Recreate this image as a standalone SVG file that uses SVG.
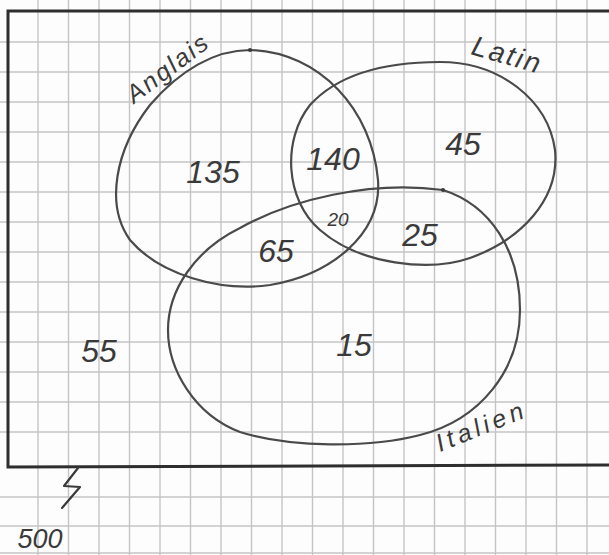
<svg xmlns="http://www.w3.org/2000/svg" width="609" height="555" viewBox="0 0 609 555">
<style>
.grid line{stroke:#c4c4c4;stroke-width:1.4}
.set{fill:none;stroke:#4a4a4a;stroke-width:2.2;stroke-linecap:round}
.num{font-family:"Liberation Sans",sans-serif;font-style:italic;font-size:32px;fill:#3a3a3a;text-anchor:middle}
.lbl{font-family:"Liberation Sans",sans-serif;font-style:italic;font-size:25px;fill:#3a3a3a}
.frame{fill:none;stroke:#2e2e2e;stroke-width:3}
</style>
<rect width="609" height="555" fill="#fdfdfd"/>
<g class="grid">
<line x1="38" y1="0" x2="38" y2="555"/><line x1="68.5" y1="0" x2="68.5" y2="555"/><line x1="99" y1="0" x2="99" y2="555"/><line x1="129.5" y1="0" x2="129.5" y2="555"/><line x1="160" y1="0" x2="160" y2="555"/><line x1="190.5" y1="0" x2="190.5" y2="555"/><line x1="221" y1="0" x2="221" y2="555"/><line x1="251.5" y1="0" x2="251.5" y2="555"/><line x1="282" y1="0" x2="282" y2="555"/><line x1="312.5" y1="0" x2="312.5" y2="555"/><line x1="343" y1="0" x2="343" y2="555"/><line x1="373.5" y1="0" x2="373.5" y2="555"/><line x1="404" y1="0" x2="404" y2="555"/><line x1="434.5" y1="0" x2="434.5" y2="555"/><line x1="465" y1="0" x2="465" y2="555"/><line x1="495.5" y1="0" x2="495.5" y2="555"/><line x1="526" y1="0" x2="526" y2="555"/><line x1="556.5" y1="0" x2="556.5" y2="555"/><line x1="587" y1="0" x2="587" y2="555"/>
<line x1="0" y1="42" x2="609" y2="42"/><line x1="0" y1="72" x2="609" y2="72"/><line x1="0" y1="102" x2="609" y2="102"/><line x1="0" y1="132" x2="609" y2="132"/><line x1="0" y1="162" x2="609" y2="162"/><line x1="0" y1="192" x2="609" y2="192"/><line x1="0" y1="222" x2="609" y2="222"/><line x1="0" y1="252" x2="609" y2="252"/><line x1="0" y1="282" x2="609" y2="282"/><line x1="0" y1="312" x2="609" y2="312"/><line x1="0" y1="342" x2="609" y2="342"/><line x1="0" y1="372" x2="609" y2="372"/><line x1="0" y1="402" x2="609" y2="402"/><line x1="0" y1="432" x2="609" y2="432"/><line x1="0" y1="497" x2="609" y2="497"/><line x1="0" y1="526" x2="609" y2="526"/><line x1="0" y1="553" x2="609" y2="553"/>
</g>
<g id="universe">
<path class="frame" d="M609 11 L8 11 L8 467 L609 465"/>
</g>
<g id="anglais">
<path class="set" d="M250 50 C320 52 372 110 378 180 C382 235 330 275 270 285 C220 292 160 275 130 240 C105 205 115 150 150 105 C180 70 215 50 250 50 Z"/>
<circle cx="250" cy="50" r="2" fill="#3a3a3a"/>
<text class="lbl" transform="translate(134 104) rotate(-37)" textLength="95">Anglais</text>
</g>
<g id="latin">
<path class="set" d="M440 62 C500 62 548 100 555 150 C560 200 520 240 470 258 C430 272 360 265 320 230 C285 200 282 140 310 105 C340 72 390 62 440 62 Z"/>
<text class="lbl" transform="translate(470 54) rotate(16)" style="font-size:28px" textLength="70">Latin</text>
</g>
<g id="italien">
<path class="set" d="M443 190 C490 205 520 250 520 310 C520 370 480 420 420 435 C370 448 290 448 240 432 C195 415 168 370 168 330 C168 290 195 250 240 228 C290 200 370 180 443 190 Z"/>
<circle cx="443" cy="190" r="2" fill="#3a3a3a"/>
<text class="lbl" transform="translate(440 452) rotate(-22)" textLength="92">Italien</text>
</g>
<g id="regions">
<text class="num" x="213" y="183">135</text>
<text class="num" x="333" y="170">140</text>
<text class="num" x="463" y="155">45</text>
<text class="num" x="338" y="226" style="font-size:19px">20</text>
<text class="num" x="276" y="262">65</text>
<text class="num" x="420" y="246">25</text>
<text class="num" x="99" y="362">55</text>
<text class="num" x="354" y="356">15</text>
<text class="num" x="40" y="548" style="font-size:27px">500</text>
</g>
<g id="connectors">
<path d="M78 468 L64 486 L80 487 L62 508" fill="none" stroke="#3a3a3a" stroke-width="2.2" stroke-linejoin="round" stroke-linecap="round"/>
</g>
</svg>
